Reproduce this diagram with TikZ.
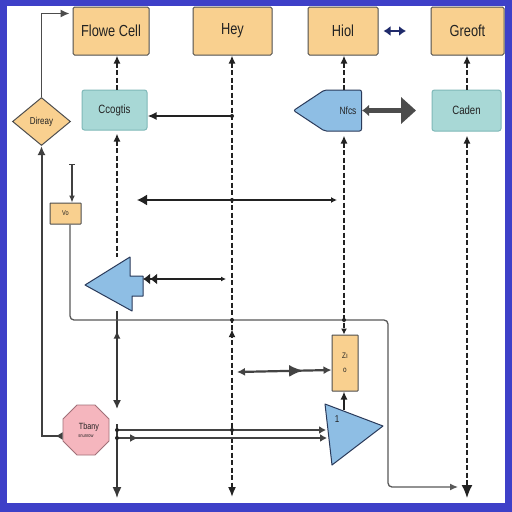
\documentclass[tikz,border=0pt]{standalone}
\usepackage{fontspec}
\setmainfont{Liberation Sans}
\newfontfamily\narrowfont[FakeStretch=0.8]{Liberation Sans}
\usetikzlibrary{arrows.meta,shapes.geometric,shapes.misc,shapes.symbols,decorations.markings,calc}
\definecolor{frameblue}{HTML}{3E40C8}
\definecolor{boxorange}{HTML}{F9D08F}
\definecolor{boxteal}{HTML}{A8D8D6}
\definecolor{tealedge}{HTML}{7FB8B8}
\definecolor{shapeblue}{HTML}{8EBEE4}
\definecolor{blueedge}{HTML}{2A3A5A}
\definecolor{pinkfill}{HTML}{F5B6BE}
\definecolor{pinkedge}{HTML}{A07078}
\definecolor{navyarrow}{HTML}{1F2A6B}
\definecolor{inkdark}{HTML}{222222}
\begin{document}
\begin{tikzpicture}[x=1pt,y=-1pt,
  orangebox/.style={draw=inkdark!80, fill=boxorange, line width=1pt, rounded corners=1.5pt, inner sep=0pt, text=inkdark},
  tealbox/.style={draw=tealedge, fill=boxteal, line width=1pt, rounded corners=2.5pt, inner sep=0pt, text=inkdark},
  lifeline/.style={line width=1.6pt, inkdark, dash pattern=on 5pt off 2.5pt},
  solidline/.style={line width=1.5pt, inkdark!90},
  routeline/.style={line width=1.3pt, black!65, rounded corners=4pt},
  crossdot/.style={circle, fill=inkdark, inner sep=0pt, minimum size=4pt},
  uparrowat/.style={postaction={decorate}, decoration={markings, mark=at position #1 with {\arrowreversed{Latex[length=8pt,width=7pt]}}}},
  downarrowat/.style={postaction={decorate}, decoration={markings, mark=at position #1 with {\arrow{Latex[length=8pt,width=8pt]}}}},
  bigmidarrow/.style={postaction={decorate}, decoration={markings, mark=at position #1 with {\arrow{Latex[length=14pt,width=12pt]}}}},
  bigfont/.style={font=\narrowfont\fontsize{16}{16}\selectfont},
  midfont/.style={font=\narrowfont\fontsize{12}{12}\selectfont}
]
\useasboundingbox (0,0) rectangle (512,512);
\fill[frameblue] (0,0) rectangle (512,512);
\fill[white] (7,6) rectangle (505,503);

% lifeline columns
\coordinate (L1) at (117,0);
\coordinate (L2) at (232,0);
\coordinate (L3) at (344,0);
\coordinate (L4) at (467,0);

% top boxes
\node[orangebox, minimum width=76pt, minimum height=48pt, bigfont] (fc) at (111,31) {Flowe Cell};
\node[orangebox, minimum width=79pt, minimum height=48pt, bigfont] (hey) at (232.5,31) {Hey};
\node[orangebox, minimum width=70pt, minimum height=48pt, bigfont] (hiol) at (343,31) {Hiol};
\node[orangebox, minimum width=73pt, minimum height=48pt, bigfont] (gre) at (467.5,31) {Greoft};

% second row
\node[tealbox, minimum width=65pt, minimum height=40pt, midfont] (cc) at (114.5,110) {Ccogtis};
\node[tealbox, minimum width=69pt, minimum height=41pt, midfont] (cad) at (466.5,110.5) {Caden};
\node[signal, signal to=west, signal pointer angle=67, draw=blueedge, fill=shapeblue, line width=1pt, rounded corners=2pt,
      minimum width=68pt, minimum height=41pt, inner sep=0pt, font=\narrowfont\fontsize{10.5}{10.5}\selectfont, text=inkdark] (nfcs) at (343,110.5) {\hspace{10pt}Nfcs};

% diamond
\node[diamond, draw=inkdark!80, fill=boxorange, line width=1pt, minimum width=58pt, minimum height=48pt, inner sep=0pt,
      aspect=1.2, font=\narrowfont\fontsize{10}{10}\selectfont, text=inkdark] (dia) at (41.5,121.5) {Direay};

% Vo box
\node[orangebox, rounded corners=0.5pt, minimum width=31pt, minimum height=21pt, font=\narrowfont\fontsize{7}{7}\selectfont] (vo) at (65.5,213.5) {Vo};

% Zu box
\node[orangebox, rounded corners=0.5pt, minimum width=26pt, minimum height=56pt, align=center, font=\narrowfont\fontsize{8}{11}\selectfont] (zu) at (345,363) {Zı\\[3pt]o};

% pink node
\node[chamfered rectangle, chamfered rectangle xsep=7pt, chamfered rectangle ysep=7pt, draw=pinkedge, fill=pinkfill, line width=0.9pt,
      minimum width=46pt, minimum height=50pt, inner sep=0pt, align=center, text=inkdark, font=\narrowfont\fontsize{9}{9}\selectfont] (pk) at (86,430) {\hspace{6pt}Tbany\\[-1pt]{\fontsize{5}{5}\selectfont snunrow}};

% big blue arrow shape
\draw[draw=blueedge, fill=shapeblue, line width=1pt, line join=round]
  (85,285) coordinate (bt) -- (130,257) coordinate (bn) -- (130,276) -- (143,276) -- (143,296) -- (132,296) -- (132,311) coordinate (bs) -- cycle;

% triangle
\draw[draw=blueedge, fill=shapeblue, line width=1pt, line join=round]
  (325,404) coordinate (t1) -- (383,426) coordinate (t2) -- (332,465) coordinate (t3) -- cycle;
\node[font=\narrowfont\fontsize{10}{10}\selectfont, text=inkdark] (one) at (337,419) {1};
\coordinate (ttop) at (344,410);

% ---- lifelines ----
% Flowe Cell
\draw[lifeline, {Latex[length=8pt,width=7pt]}-] (fc.south -| L1) -- (cc.north -| L1);
\draw[lifeline, {Latex[length=8pt,width=7pt]}-] ($(cc.south -| L1)+(0,3)$) -- (bn -| L1);
\draw[solidline, -{Latex[length=9pt,width=8pt]}, uparrowat=0.2] (bs -| L1) -- (117,409);
\draw[solidline, -{Latex[length=11pt,width=9pt]}] (117,424) -- (117,498);
% Hey
\draw[lifeline, {Latex[length=8pt,width=7pt]}-{Latex[length=10pt,width=8pt]}, uparrowat=0.62] (hey.south -| L2) -- (232,497);
% Hiol
\draw[lifeline, {Latex[length=8pt,width=7pt]}-] (hiol.south -| L3) -- (nfcs.north -| L3);
\draw[lifeline, {Latex[length=8pt,width=7pt]}-{Latex[length=6pt,width=6pt]}] ($(nfcs.south -| L3)+(0,4)$) -- (zu.north -| L3);
% Greoft
\draw[lifeline, {Latex[length=8pt,width=7pt]}-] (gre.south -| L4) -- (cad.north -| L4);
\draw[lifeline, {Latex[length=8pt,width=7pt]}-{Latex[length=13pt,width=11pt]}] ($(cad.south -| L4)+(0,4)$) -- (467,498);

% ---- messages ----
\draw[line width=2pt, inkdark, -{Latex[length=9pt,width=8pt]}] (L2 |- 0,116) -- (cc.east |- 0,116);
\node[crossdot] (d1) at (232,116) {};

\draw[line width=1.4pt, inkdark, {Latex[length=10pt,width=11pt]}-{Latex[length=6pt,width=6pt]}] (137,200) -- (337,200);
\node[crossdot] (d2) at (232,200) {};

\draw[line width=1.7pt, inkdark, {Latex[length=7pt,width=11pt]Latex[length=7pt,width=11pt]}-{Latex[length=5pt,width=5pt]}] (143,279) -- (226,279);

\draw[line width=2.2pt, inkdark!85, {Latex[length=8pt,width=8pt]}-{Latex[length=8pt,width=8pt]}, bigmidarrow=0.7] (237,372) -- (zu.west |- 0,370);
\draw[line width=1.5pt, inkdark, -{Latex[length=8pt,width=7pt]}] (ttop) -- (zu.south -| L3);

\draw[line width=1.5pt, inkdark!85, -{Latex[length=7pt,width=8pt]}] (117,430) -- (326,430);
\draw[line width=1.5pt, inkdark!85, -{Latex[length=7pt,width=8pt]}, downarrowat=0.1] (117,438) -- (327,438);
\node[crossdot] (d3) at (117,430) {};
\node[crossdot] (d4) at (117,438) {};
\node[crossdot] (d5) at (232,430) {};

% diamond links
\draw[line width=1.4pt, black!70, -{Latex[length=9pt,width=8pt]}] (dia.north) |- ($(fc.north west)+(-3,7)$);
\draw[line width=2pt, black!75, {Latex[reversed,length=7pt,width=8pt]}-{Latex[length=9pt,width=8pt]}] (pk.west |- 0,436) -| (dia.south);

% Vo links
\draw[line width=1.2pt, black!75, {Bar[width=6pt]}-{Latex[length=7pt,width=6pt]}] (72,164) -- (vo.north -| 72,0);
\draw[routeline, -{Latex[length=8pt,width=7pt]}] (vo.south -| 70,0) -- (70,320) -- (388,320) -- (388,487) -- (458,487);
\node[crossdot] (d6) at (232,320) {};
\node[crossdot] (d7) at (344,320) {};

% side arrows
\draw[line width=4.5pt, black!70, {Latex[length=7pt,width=12pt]}-{Triangle[length=15pt,width=26pt]}] (nfcs.east) -- (416,110.5);
\draw[line width=2.8pt, navyarrow, {Latex[length=7pt,width=10pt]}-{Latex[length=7pt,width=10pt]}] ($(hiol.east)+(5,0)$) -- (406,31);
\end{tikzpicture}
\end{document}
